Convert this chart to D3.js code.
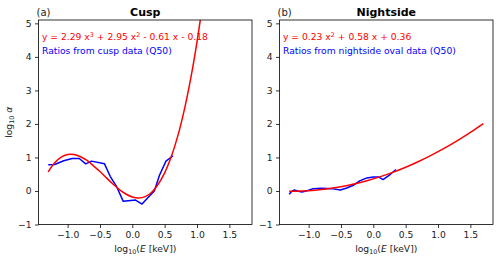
<!DOCTYPE html>
<html>
<head>
<meta charset="utf-8">
<script src="https://cdn.jsdelivr.net/npm/d3@7"></script>
<style>
  body { margin: 0; background: #fff; }
  svg { display: block; font-family: "DejaVu Sans", sans-serif; }
</style>
</head>
<body>
<div id="vis"></div>
<script>
// measured ratios (log10 E, log10 alpha)
const cuspX = [-1.30, -1.20, -1.06, -0.93, -0.82, -0.72, -0.63, -0.43, -0.34, -0.24, -0.14, 0.05, 0.15, 0.24, 0.34, 0.42, 0.52, 0.63];
const cuspY = [0.78, 0.79, 0.90, 0.97, 0.97, 0.81, 0.89, 0.81, 0.43, 0.12, -0.31, -0.27, -0.39, -0.20, 0.00, 0.47, 0.89, 1.05];

const nightX = [-1.30, -1.26, -1.22, -1.16, -1.10, -1.00, -0.93, -0.80, -0.64, -0.51, -0.41, -0.31, -0.21, -0.10, 0.00, 0.08, 0.15, 0.26, 0.35];
const nightY = [-0.10, -0.01, 0.03, -0.01, -0.03, 0.02, 0.07, 0.08, 0.07, 0.03, 0.09, 0.17, 0.30, 0.39, 0.42, 0.42, 0.34, 0.49, 0.64];

// fitted curves
const cuspFitX = [-1.3, -1.2, -1.1, -1.0, -0.9, -0.8, -0.7, -0.6, -0.5, -0.4, -0.3, -0.2, -0.1, 0.0, 0.1, 0.2, 0.3, 0.4, 0.5, 0.6, 0.7, 0.8, 0.9, 1.0, 1.1];
const cuspFitY = [0.57, 0.84, 1.01, 1.09, 1.09, 1.02, 0.91, 0.75, 0.58, 0.39, 0.21, 0.04, -0.09, -0.18, -0.21, -0.17, -0.04, 0.20, 0.54, 1.01, 1.62, 2.39, 3.33, 4.45, 5.77];

const nightFitX = [-1.3, -1.1, -0.9, -0.7, -0.5, -0.3, -0.1, 0.1, 0.3, 0.5, 0.7, 0.9, 1.1, 1.3, 1.5, 1.7];
const nightFitY = [-0.005, 0.00, 0.024, 0.067, 0.128, 0.207, 0.304, 0.420, 0.555, 0.708, 0.879, 1.068, 1.276, 1.503, 1.748, 2.011];

const xTicks = [-1.0, -0.5, 0.0, 0.5, 1.0, 1.5];
const yTicks = [-1, 0, 1, 2, 3, 4, 5];

const panels = [
    { left: 38.5, tag: "(a)", title: "Cusp", label: "Ratios from cusp data (Q50)",
      mx: cuspX, my: cuspY, fx: cuspFitX, fy: cuspFitY,
      eq: [["y = 2.29 x", null], ["3", "sup"], [" + 2.95 x", null], ["2", "sup"], [" - 0.61 x - 0.18", null]] },
    { left: 279.5, tag: "(b)", title: "Nightside", label: "Ratios from nightside oval data  (Q50)",
      mx: nightX, my: nightY, fx: nightFitX, fy: nightFitY,
      eq: [["y = 0.23 x", null], ["2", "sup"], [" + 0.58 x + 0.36", null]] }
];

const W = 500, H = 259;
const plotTop = 20, plotBottom = 224.5, pw = 213.5;
const fs = 9.2, fsSmall = 6.4;

const svg = d3.select("#vis").append("svg")
    .attr("width", W)
    .attr("height", H);

const fmtX = d3.format(".1f");
const fmtY = d3.format("d");

panels.forEach((p, i) => {
    const x = d3.scaleLinear().domain([-1.45, 1.85]).range([p.left, p.left + pw]);
    const y = d3.scaleLinear().domain([-1, 5.1]).range([plotBottom, plotTop]);

    const g = svg.append("g");

    g.append("clipPath").attr("id", "clip" + i)
        .append("rect")
        .attr("x", p.left).attr("y", plotTop)
        .attr("width", pw).attr("height", plotBottom - plotTop);

    // axes
    const xa = g.append("g")
        .attr("transform", `translate(0,${plotBottom})`)
        .call(d3.axisBottom(x).tickValues(xTicks).tickFormat(fmtX).tickSize(3.5).tickPadding(3.5));
    const ya = g.append("g")
        .attr("transform", `translate(${p.left},0)`)
        .call(d3.axisLeft(y).tickValues(yTicks).tickFormat(fmtY).tickSize(3.5).tickPadding(3.5));
    [xa, ya].forEach(a => {
        a.select(".domain").remove();
        a.selectAll("line").attr("stroke", "#000").attr("stroke-width", 0.8);
        a.selectAll("text").attr("font-size", fs).attr("fill", "#222")
            .attr("font-family", "DejaVu Sans, sans-serif");
    });

    const line = d3.line().x(d => x(d[0])).y(d => y(d[1]));

    const plot = g.append("g").attr("clip-path", `url(#clip${i})`);

    plot.append("path")
        .datum(p.mx.map((v, k) => [v, p.my[k]]))
        .attr("fill", "none")
        .attr("stroke", "#0000ff")
        .attr("stroke-width", 1.5)
        .attr("stroke-linejoin", "round")
        .attr("d", line);

    plot.append("path")
        .datum(p.fx.map((v, k) => [v, p.fy[k]]))
        .attr("fill", "none")
        .attr("stroke", "#ff0000")
        .attr("stroke-width", 1.5)
        .attr("d", line.curve(d3.curveCatmullRom));

    // frame
    g.append("rect")
        .attr("x", p.left).attr("y", plotTop)
        .attr("width", pw).attr("height", plotBottom - plotTop)
        .attr("fill", "none")
        .attr("stroke", "#000")
        .attr("stroke-width", 0.8);

    // equation + legend text
    const eq = g.append("text")
        .attr("x", p.left + 3.5)
        .attr("y", 36.5)
        .attr("font-size", fs)
        .attr("fill", "#ff0000");
    p.eq.forEach(([s, kind]) => {
        if (kind === "sup") {
            eq.append("tspan").attr("font-size", fsSmall).attr("dy", -3.8).text(s);
        } else {
            eq.append("tspan").attr("dy", eq.selectAll("tspan").size() ? 3.8 : 0).text(s);
        }
    });

    g.append("text")
        .attr("x", p.left + 3.5)
        .attr("y", 54)
        .attr("font-size", fs)
        .attr("fill", "#0000ff")
        .text(p.label);

    // titles
    g.append("text")
        .attr("x", p.left + pw / 2)
        .attr("y", 15.5)
        .attr("text-anchor", "middle")
        .attr("font-size", 11)
        .attr("font-weight", "bold")
        .text(p.title);

    g.append("text")
        .attr("x", p.left - 2)
        .attr("y", 15.5)
        .attr("font-size", 10)
        .attr("fill", "#222")
        .text(p.tag);

    // x label
    const xl = g.append("text")
        .attr("x", p.left + pw / 2)
        .attr("y", 252)
        .attr("text-anchor", "middle")
        .attr("font-size", fs)
        .attr("fill", "#222");
    xl.append("tspan").text("log");
    xl.append("tspan").attr("font-size", fsSmall).attr("dy", 2).text("10");
    xl.append("tspan").attr("dy", -2).text("(");
    xl.append("tspan").attr("font-style", "italic").text("E");
    xl.append("tspan").text(" [keV])");

    if (i === 0) {
        const yl = g.append("text")
            .attr("transform", `translate(12,${(plotTop + plotBottom) / 2}) rotate(-90)`)
            .attr("text-anchor", "middle")
            .attr("font-size", fs)
            .attr("fill", "#222");
        yl.append("tspan").text("log");
        yl.append("tspan").attr("font-size", fsSmall).attr("dy", 2).text("10");
        yl.append("tspan").attr("dy", -2).attr("font-style", "italic").text(" α");
    }
});
</script>
</body>
</html>
